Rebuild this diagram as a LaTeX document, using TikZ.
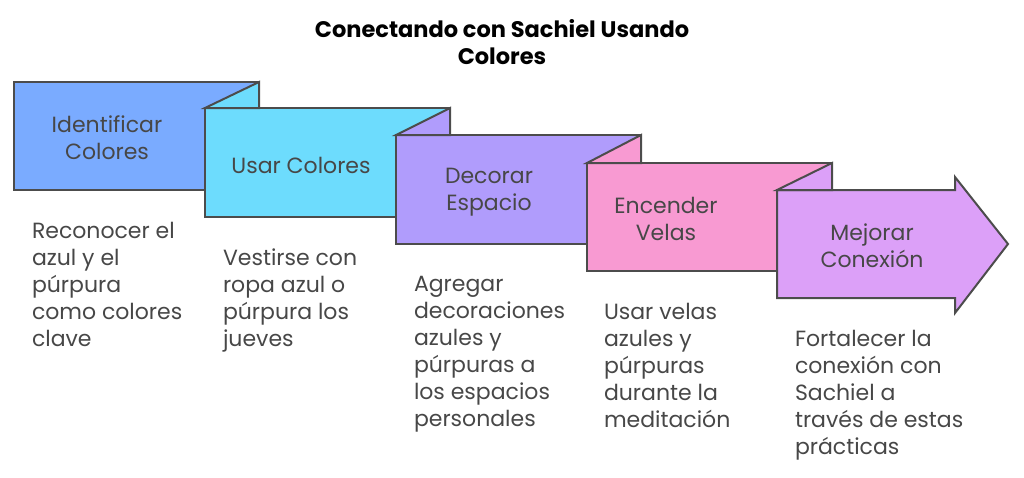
\documentclass[tikz,border=0pt]{standalone}
\usepackage{fontspec}
\setmainfont{Poppins}
\begin{document}
\begin{tikzpicture}[x=1pt,y=-1pt,line width=2pt,
  box/.style={draw=black!70,line join=miter},
  lbl/.style={text=black!72,font=\fontsize{22}{27}\selectfont,align=center},
  desc/.style={text=black!72,font=\fontsize{22}{27}\selectfont,align=left,anchor=north west,inner sep=0pt}]
\definecolor{cA}{HTML}{7AABFF}
\definecolor{cB}{HTML}{6DDCFD}
\definecolor{cC}{HTML}{B09CFC}
\definecolor{cD}{HTML}{F89AD2}
\definecolor{cE}{HTML}{DCA0F8}
\useasboundingbox (0,0) rectangle (1024,477);
\node[font=\bfseries\fontsize{22.5}{27}\selectfont,align=center] (title) at (502,42) {Conectando con Sachiel Usando\\Colores};
% boxes
\draw[box,fill=cA] (14,82) rectangle (259,190);
\draw[box,fill=cB] (205,108) rectangle (450,217);
\draw[box,fill=cB] (205,108) -- (259,82) -- (259,108) -- cycle;
\draw[box,fill=cC] (396,135) rectangle (641,244);
\draw[box,fill=cC] (396,135) -- (450,108) -- (450,135) -- cycle;
\draw[box,fill=cD] (587,163) rectangle (832,271);
\draw[box,fill=cD] (587,163) -- (641,135) -- (641,163) -- cycle;
\draw[box,fill=cE] (777,190) -- (955,190) -- (955,177) -- (1008,244) -- (955,313) -- (955,298) -- (777,298) -- cycle;
\draw[box,fill=cE] (777,190) -- (832,163) -- (832,190) -- cycle;
% labels
\node[lbl] (l1) at (107,138) {Identificar\\Colores};
\node[lbl] (l2) at (301,165) {Usar Colores};
\node[lbl] (l3) at (489,192) {Decorar\\Espacio};
\node[lbl] (l4) at (666,219) {Encender\\Velas};
\node[lbl] (l5) at (872,246) {Mejorar\\Conexión};
% descriptions
\node[desc] (d1) at (31,221) {Reconocer el\\azul y el\\púrpura\\como colores\\clave};
\node[desc] (d2) at (222,248) {Vestirse con\\ropa azul o\\púrpura los\\jueves};
\node[desc] (d3) at (413,275) {Agregar\\decoraciones\\azules y\\púrpuras a\\los espacios\\personales};
\node[desc] (d4) at (603,302) {Usar velas\\azules y\\púrpuras\\durante la\\meditación};
\node[desc] (d5) at (794,329) {Fortalecer la\\conexión con\\Sachiel a\\través de estas\\prácticas};
\end{tikzpicture}
\end{document}
